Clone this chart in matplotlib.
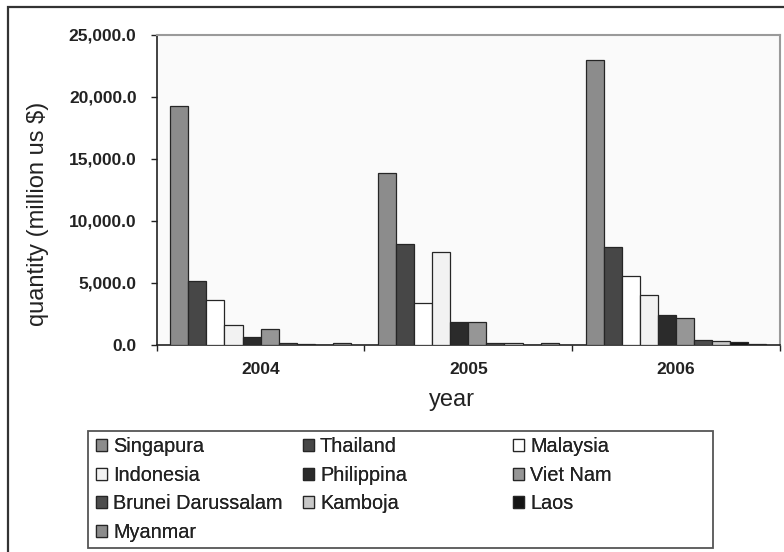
import matplotlib
matplotlib.use("Agg")
import matplotlib.pyplot as plt
import numpy as np
from matplotlib.patches import Rectangle

plt.rcParams["font.family"] = ["Liberation Sans", "DejaVu Sans"]

years = ["2004", "2005", "2006"]
countries = ["Singapura", "Thailand", "Malaysia", "Indonesia", "Philippina",
             "Viet Nam", "Brunei Darussalam", "Kamboja", "Laos", "Myanmar"]
# million US$ per year (2004, 2005, 2006)
singapura = [19300, 13900, 22950]
thailand = [5150, 8150, 7930]
malaysia = [3600, 3400, 5600]
indonesia = [1650, 7500, 4050]
philippina = [680, 1850, 2400]
viet_nam = [1300, 1850, 2200]
brunei = [190, 190, 400]
kamboja = [100, 190, 300]
laos = [0, 0, 210]
myanmar = [190, 190, 100]

series = [singapura, thailand, malaysia, indonesia, philippina,
          viet_nam, brunei, kamboja, laos, myanmar]
colors = ["#8c8c8c", "#474747", "#ffffff", "#f2f2f2", "#2b2b2b",
          "#969696", "#4d4d4d", "#c8c8c8", "#141414", "#8c8c8c"]

TXT = "#222222"
fig = plt.figure(figsize=(7.84, 5.52), dpi=100)
ax = fig.add_axes([0.1999, 0.375, 0.795, 0.5616])
ax.set_facecolor("#fafafa")

x = np.arange(len(years))
n = len(series)
w = 1.0 / (n + 1.5)
handles = []
for i, (vals, col, name) in enumerate(zip(series, colors, countries)):
    b = ax.bar(x + (i - (n - 1) / 2) * w, vals, width=w, color=col,
               edgecolor="#262626", linewidth=0.9, label=name, zorder=3)
    handles.append(b)

ax.set_xlim(-0.5, len(years) - 0.5)
ax.set_ylim(0, 25000)
ax.set_yticks(np.arange(0, 25001, 5000))
ax.set_yticklabels([f"{v:,.1f}" for v in np.arange(0, 25001, 5000)],
                   fontsize=12.5, fontweight="bold", color=TXT)
ax.tick_params(axis="y", direction="out", length=4, width=1, pad=10.5,
               color="#222222")

ax.set_xticks(x)
ax.set_xticklabels(years, fontsize=12.5, fontweight="bold", color=TXT)
ax.set_xticks(np.arange(-0.5, len(years)), minor=True)
ax.tick_params(axis="x", which="major", length=0, pad=12)
ax.tick_params(axis="x", which="minor", direction="out", length=4, width=1,
               color="#222222")

for side in ("left", "bottom"):
    ax.spines[side].set_color("#222222")
    ax.spines[side].set_linewidth(1.2)
for side in ("top", "right"):
    ax.spines[side].set_color("#9a9a9a")
    ax.spines[side].set_linewidth(1.5)

ax.set_xlabel("year", fontsize=17, color=TXT)
ax.xaxis.set_label_coords(0.474, -0.177)
ax.xaxis.label.set_va("center")
ax.set_ylabel("quantity (million us $)", fontsize=17, color=TXT)
ax.yaxis.set_label_coords(-0.191, 0.4226)
ax.yaxis.label.set_va("center")

# outer chart frame (only top/left edges fall inside the canvas)
fig.patches.append(Rectangle((8 / 784, -0.1), 1.2, 1 - 7 / 552 + 0.1,
                             transform=fig.transFigure, fill=False,
                             edgecolor="#333333", linewidth=1.6))

# legend box with three equally spaced columns
fig.patches.append(Rectangle((88 / 784, 1 - 548 / 552), (713 - 88) / 784,
                             (548 - 431) / 552, transform=fig.transFigure,
                             fill=False, edgecolor="#555555", linewidth=1.3))
col_idx = [[0, 3, 6, 9], [1, 4, 7], [2, 5, 8]]
col_x = [96, 303, 513]
for idx, cx in zip(col_idx, col_x):
    leg = fig.legend([handles[k] for k in idx], [countries[k] for k in idx],
                     loc="upper left", bbox_to_anchor=(cx / 784, 1 - 437 / 552),
                     frameon=False, fontsize=14.3, borderpad=0,
                     borderaxespad=0, handlelength=0.55, handleheight=0.55,
                     handletextpad=0.3, labelspacing=0.49, labelcolor=TXT)
    fig.add_artist(leg)

fig.savefig("out.png", dpi=100)
